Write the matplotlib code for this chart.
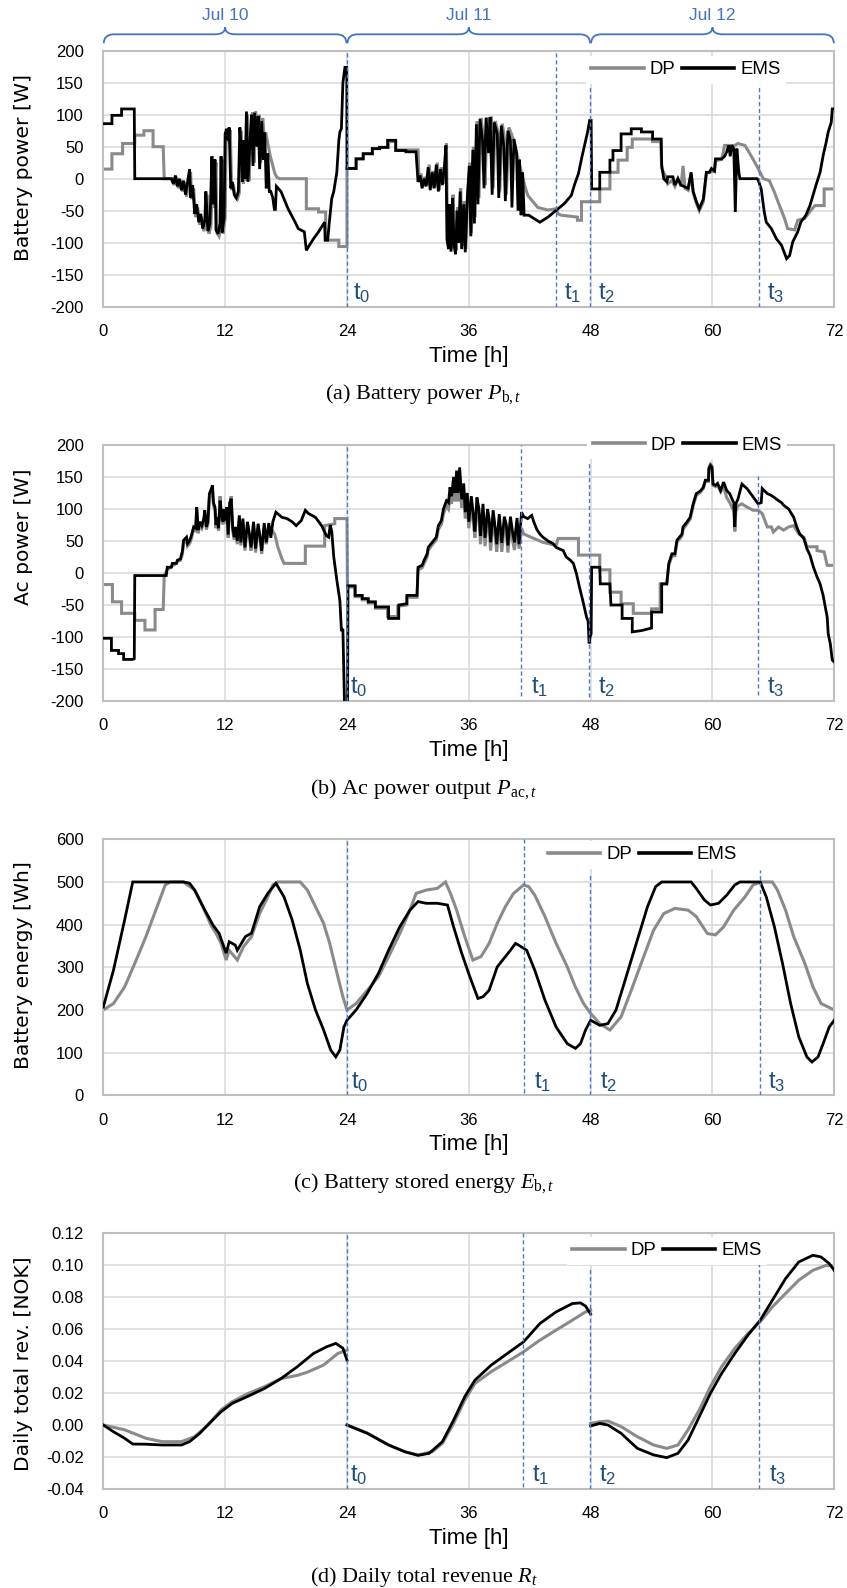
import numpy as np
import matplotlib
matplotlib.use('Agg')
import matplotlib.pyplot as plt
from matplotlib.path import Path
from matplotlib.patches import PathPatch
from matplotlib.lines import Line2D
from matplotlib.font_manager import FontProperties
import matplotlib.transforms as mtransforms
from matplotlib.ticker import FormatStrFormatter

plt.rcParams['axes.unicode_minus'] = False
plt.rcParams['mathtext.fontset'] = 'custom'
plt.rcParams['mathtext.rm'] = 'Liberation Serif'
plt.rcParams['mathtext.it'] = 'Liberation Serif:italic'
plt.rcParams['mathtext.bf'] = 'Liberation Serif:bold'

# ---------------- data ----------------
x_ticks = [0, 12, 24, 36, 48, 60, 72]
day_labels = ["Jul 10", "Jul 11", "Jul 12"]
series_labels = ["DP", "EMS"]

# (a) battery power [W]  (time h, value)
pb_dp = [(0,15),(0.85,15),(0.85,39),(1.9,39),(1.9,55),(3.1,55),(3.1,68),(4.0,68),(4.0,75),(4.9,75),(4.9,50),(5.9,50),(6.0,0),(6.8,0),
 (7.0,-10),(7.2,3),(7.4,-15),(7.6,-2),(7.8,-20),(8.0,-5),(8.2,-28),(8.4,-8),(8.6,10),(8.7,-32),(8.9,-15),(9.1,-60),(9.3,-45),(9.5,-72),
 (9.7,-60),(9.9,-82),(10.1,-70),(10.2,-25),(10.4,-86),(10.6,-75),(10.8,30),(10.9,-45),(11.1,25),(11.2,-85),(11.4,-90),(11.6,-75),(11.7,30),
 (11.8,-86),(12.0,-62),(12.1,68),(12.25,75),(12.4,58),(12.5,76),(12.65,-18),(12.8,-8),(13.0,-28),(13.2,-32),(13.4,-22),(13.55,75),(13.7,38),
 (13.8,-8),(13.95,58),(14.05,-3),(14.2,100),(14.35,-3),(14.55,62),(14.7,104),(14.85,25),(15.0,105),(15.2,55),(15.35,100),(15.5,25),
 (15.7,95),(15.85,65),(16.0,72),(16.2,55),(16.45,35),(16.7,20),(16.9,8),(17.1,2),(17.4,0),(20.0,0),(20.0,-47),
 (21.2,-47),(21.2,-52),(21.9,-52),(21.9,-96),(23.2,-96),(23.2,-106),(24.0,-106),(24.0,16),(24.9,16),(24.9,31),(25.6,31),(25.6,39),(26.5,39),
 (26.5,47),(27.2,47),(27.2,49),(28.1,49),(28.1,58),(28.8,58),(28.8,45),(31.0,45),(31.1,-5),(31.3,8),(31.5,-12),(31.7,3),(31.9,-10),(32.1,22),
 (32.3,-15),(32.5,12),(32.7,-12),(32.9,25),(33.1,-18),(33.3,18),(33.5,-8),(33.7,25),(33.8,55),(33.9,-90),(34.05,-105),(34.15,-50),(34.3,-110),
 (34.45,-25),(34.6,-100),(34.75,-112),(34.9,-45),(35.05,-95),(35.2,-15),(35.35,-105),(35.55,-35),(35.7,-110),(35.9,-25),(36.1,25),
 (36.25,-85),(36.45,50),(36.6,-60),(36.8,90),(37.0,-30),(37.2,95),(37.45,65),(37.6,-10),(37.8,96),(38.05,50),(38.2,97),(38.4,-15),(38.6,90),
 (38.9,72),(39.05,-20),(39.3,86),(39.55,60),(39.7,-25),(39.95,80),(40.2,70),(40.5,55),(40.8,35),(41.1,15),(41.5,-10),(41.8,-26),(42.8,-45),
 (43.8,-49),(44.6,-47),(44.8,-55),(45.1,-57),(46.7,-60),(46.7,-65),(47.1,-65),(47.1,-36),(48.9,-36),(48.9,-16),(49.9,-16),(49.9,10),(50.7,10),
 (50.7,29),(51.6,29),(51.6,49),(52.1,49),(52.1,62),(54.1,62),(54.1,58),(54.9,58),(55.0,16),(55.5,0),(55.6,-8),(56.0,-3),(56.3,-12),(56.6,0),
 (56.9,-12),(57.1,20),(57.3,-15),(57.6,-18),(57.9,8),(58.1,-22),(58.4,-38),(58.7,-50),(59.1,-36),(59.4,8),(59.7,10),(60.2,12),(60.3,28),
 (60.9,30),(61.2,52),(62.2,52),(62.5,55),(63.2,52),(63.8,36),(64.5,16),(65.0,0),(65.6,-3),(66.1,-21),(66.6,-42),(67.1,-62),(67.4,-78),
 (68.1,-80),(68.4,-65),(69.1,-62),(69.7,-49),(70.1,-42),(71.0,-42),(71.0,-16),(72,-16)]

pb_ems = [(0,86),(0.85,86),(0.85,99),(1.8,99),(1.8,109),(3.05,109),(3.1,0),(6.7,0),(6.9,-8),(7.1,5),(7.3,-12),(7.5,0),(7.7,-18),(7.9,-3),
 (8.1,-25),(8.3,-5),(8.5,15),(8.6,-30),(8.8,-10),(9.0,-55),(9.2,-40),(9.4,-68),(9.6,-55),(9.8,-78),(10.0,-65),(10.1,-20),(10.3,-82),(10.5,-70),
 (10.7,35),(10.8,-40),(11.0,30),(11.1,-80),(11.3,-86),(11.5,-70),(11.6,35),(11.7,-84),(11.9,-60),(12.0,70),(12.15,78),(12.3,60),(12.4,80),
 (12.55,-15),(12.7,-5),(12.9,-25),(13.1,-30),(13.3,-20),(13.45,80),(13.6,40),(13.7,-5),(13.85,60),(13.95,0),(14.1,105),(14.25,-5),(14.45,60),
 (14.6,100),(14.75,20),(14.9,103),(15.1,50),(15.25,98),(15.4,15),(15.6,90),(15.75,30),(15.9,72),(16.05,-15),(16.2,40),(16.35,-20),
 (16.5,-20),(16.7,-30),(16.85,-48),(16.95,-48),(17.05,-12),(17.5,-20),(18.2,-47),
 (18.9,-68),(19.2,-78),(19.8,-83),(20.0,-112),(20.3,-104),(20.7,-94),(21.2,-83),(21.6,-73),(21.8,-68),(21.85,-96),(22.1,-96),(22.3,-62),
 (22.5,-31),(22.7,-20),(22.8,-10),(23.0,10),(23.2,60),(23.3,73),(23.45,78),(23.6,150),(23.8,174),(23.98,174),(24.0,16),(24.9,16),(24.9,31),
 (25.6,31),(25.6,39),(26.5,39),(26.5,47),(27.2,47),(27.2,49),(28.0,49),(28.0,60),(28.8,60),(28.8,44),(29.8,44),(29.8,42),(30.8,42),(31.0,-5),
 (31.2,5),(31.4,-15),(31.6,0),(31.8,-12),(32.0,18),(32.2,-18),(32.4,10),(32.6,-15),(32.8,22),(33.0,-20),(33.2,15),(33.4,-10),(33.6,20),
 (33.75,52),(33.85,-95),(34.0,-110),(34.1,-40),(34.25,-114),(34.4,-30),(34.55,-105),(34.7,-118),(34.85,-50),(35.0,-100),(35.15,-20),
 (35.3,-110),(35.5,-40),(35.65,-115),(35.85,-30),(36.05,20),(36.2,-90),(36.4,45),(36.55,-70),(36.75,85),(36.9,-40),(37.1,93),(37.35,60),
 (37.5,-15),(37.7,95),(37.95,40),(38.1,96),(38.3,-25),(38.5,88),(38.8,70),(38.95,-30),(39.2,83),(39.45,50),(39.6,-35),(39.85,75),(40.1,60),
 (40.25,-45),(40.45,62),(40.7,40),(40.85,-50),(41.0,30),(41.15,-57),(41.3,10),(41.45,-57),(41.9,-57),
 (43.0,-68),(43.8,-60),(44.8,-47),(45.4,-39),(46.1,-26),(46.4,-10),(46.8,8),(47.1,31),(47.4,52),(47.7,73),(47.9,91),(48.05,91),(48.1,-16),
 (48.9,-16),(48.9,10),(49.9,10),(49.9,29),(50.2,29),(50.2,44),(51.0,44),(51.0,70),(52.0,70),(52.0,78),(53.0,78),(53.0,73),(54.1,73),(54.1,62),
 (54.95,62),(55.0,21),(55.2,0),(55.5,-5),(55.6,3),(56.1,3),(56.3,-10),(56.6,0),(56.9,-10),(57.6,-15),(57.9,10),(58.1,-20),(58.4,-35),(58.7,-47),
 (59.1,-32),(59.4,10),(59.7,10),(59.9,16),(60.2,12),(60.3,31),(60.9,31),(61.2,35),(61.4,42),(61.6,52),(61.75,35),(61.9,52),(62.1,47),(62.25,-52),
 (62.4,47),(62.6,10),(62.7,0),(64.4,0),(64.5,-2),(64.8,-16),(65.1,-52),(65.3,-68),(65.8,-78),(66.3,-94),(66.8,-104),(67.3,-125),(67.6,-120),
 (67.9,-99),(68.4,-83),(68.7,-68),(69.2,-57),(69.6,-42),(69.9,-26),(70.2,-10),(70.6,10),(70.9,36),(71.2,57),(71.4,73),(71.7,88),(71.8,109),(72,109)]

# (b) ac power output [W]
pac_dp = [(0,-18),(0.9,-18),(0.9,-45),(1.8,-45),(1.8,-63),(3.1,-63),(3.1,-74),(4.1,-74),(4.1,-89),(5.1,-89),(5.1,-57),(5.9,-57),(6.0,-4),
 (6.3,5),(6.7,10),(7.2,15),(7.3,18),(7.6,20),(7.8,30),(7.9,46),(8.2,52),(8.3,42),(8.5,46),(8.7,55),(8.9,68),(9.1,66),(9.2,98),(9.35,62),(9.5,76),
 (9.7,70),(9.9,80),(10.0,93),(10.15,68),(10.3,76),(10.45,118),(10.6,125),(10.75,133),(10.85,105),(11.0,99),(11.1,70),(11.2,83),(11.35,66),
 (11.5,120),(11.65,85),(11.8,76),(11.9,95),(12.0,78),(12.15,98),(12.3,55),(12.45,105),(12.6,120),(12.75,65),(12.9,52),
 (13.0,68),(13.2,45),(13.4,85),(13.55,43),(13.75,80),(13.95,35),(14.2,75),(14.4,55),(14.55,35),(14.8,75),(15.0,32),(15.25,72),(15.45,50),
 (15.6,30),(15.85,72),(16.05,45),(16.3,68),(16.5,62),(16.7,65),(16.9,60),(17.2,40),(17.6,22),
 (17.8,15),(19.9,15),(19.9,42),(21.8,42),(21.8,74),(22.8,77),(22.8,85),(24.0,85),(24.05,-22),(24.8,-22),(24.8,-37),(25.5,-37),(25.5,-42),
 (26.1,-42),(26.1,-47),(26.8,-47),(26.8,-55),(28.0,-55),(28.0,-68),(29.0,-68),(29.0,-52),(29.9,-50),(29.9,-38),(30.9,-38),(31.0,5),(31.4,8),
 (31.6,15),(31.9,25),(32.0,35),(32.3,42),(32.6,48),(32.8,52),(33.0,68),(33.3,76),(33.5,92),(33.8,105),(34.0,100),(34.15,120),(34.3,108),
 (34.5,135),(34.65,112),(34.8,145),(34.95,112),(35.1,150),(35.3,102),(35.5,125),(35.65,85),(35.85,112),(36.0,70),(36.25,106),(36.45,78),
 (36.6,55),(36.8,104),(37.0,88),(37.15,45),(37.4,95),(37.6,42),(37.85,88),(38.0,72),(38.15,35),(38.4,85),(38.6,58),(38.75,33),(39.0,78),
 (39.25,33),(39.5,75),(39.7,62),(39.85,32),(40.1,75),(40.35,48),(40.5,36),(40.75,73),(40.95,38),(41.2,70),(41.4,61),(42.4,54),(43.3,48),
 (44.6,43),(44.8,54),(46.8,54),(46.8,28),
 (48.9,28),(48.9,5),(49.9,5),(49.9,-30),(51.0,-30),(51.0,-48),(52.2,-48),(52.2,-63),(54.0,-63),(54.0,-56),(54.85,-56),(54.85,-17),(55.5,-17),
 (55.7,12),(56.0,26),(56.3,27),(56.5,48),(57.0,58),(57.1,68),(57.5,77),(57.8,84),(58.1,105),(58.4,121),(58.8,126),(59.1,132),(59.3,143),
 (59.6,143),(59.65,165),(59.8,170),(59.95,167),(60.05,137),(60.3,135),(60.5,138),(60.8,127),(61.1,135),(61.4,118),(61.7,110),(62.0,100),
 (62.1,98),(62.2,65),(62.3,96),(62.5,105),(62.9,108),(63.4,103),(64.0,98),(64.5,98),(64.9,93),(65.4,72),(65.8,72),(66.0,64),(66.5,72),
 (67.0,67),(67.5,72),(68.0,74),(68.5,61),(69.0,56),(69.3,41),(70.3,41),(70.3,35),(71.0,33),(71.3,12),(72,12)]

pac_ems = [(0,-102),(0.8,-102),(0.8,-121),(1.5,-121),(1.5,-126),(2.0,-126),(2.0,-135),(2.9,-135),(3.05,-134),(3.1,-4),(6.2,-4),(6.3,9),
 (6.7,9),(6.8,15),(7.2,15),(7.3,20),(7.6,22),(7.8,35),(7.9,51),(8.2,56),(8.3,46),(8.5,50),(8.7,60),(8.9,72),(9.1,70),(9.2,103),(9.35,67),
 (9.5,80),(9.7,74),(9.9,85),(10.0,98),(10.15,72),(10.3,80),(10.45,124),(10.6,130),(10.75,137),(10.85,110),(11.0,103),(11.1,75),(11.2,87),
 (11.35,70),(11.5,113),(11.65,90),(11.8,80),(11.9,100),(12.0,82),(12.15,103),(12.3,60),(12.45,110),(12.6,116),(12.75,70),(12.9,56),
 (13.0,72),(13.2,50),(13.4,90),(13.55,48),(13.75,85),(13.95,40),(14.2,80),(14.4,60),(14.55,40),(14.8,80),(15.0,38),(15.25,77),(15.45,55),
 (15.6,35),(15.85,78),(16.05,48),(16.3,78),(16.5,55),(16.7,80),(16.9,90),
 (17.0,95),(17.6,87),(18.1,85),(18.6,80),(19.0,74),(19.5,82),(19.9,98),(20.2,93),(20.9,87),(21.5,74),(21.8,64),(22.0,58),(22.2,56),(22.35,75),
 (22.5,65),(22.7,25),(23.0,-11),(23.3,-43),(23.45,-89),(23.6,-89),(23.75,-200),(23.95,-260),(24.05,-260),(24.1,-20),(24.8,-20),(24.8,-35),
 (25.5,-35),(25.5,-40),(26.1,-40),(26.1,-45),(26.8,-45),(26.8,-53),(28.1,-53),(28.1,-71),(29.1,-71),(29.1,-50),(29.9,-48),(29.9,-35),
 (30.9,-35),(31.0,9),(31.4,12),(31.6,20),(31.9,30),(32.0,40),(32.3,46),(32.6,52),(32.8,56),(33.0,74),(33.3,82),(33.5,100),(33.8,113),
 (34.0,110),(34.15,134),(34.3,120),(34.5,150),(34.65,125),(34.8,160),(34.95,125),(35.1,165),(35.3,115),(35.5,140),(35.65,95),(35.85,125),
 (36.0,80),(36.25,120),(36.45,90),(36.6,65),(36.8,118),(37.0,100),(37.15,58),(37.4,108),(37.6,55),(37.85,100),(38.0,85),(38.15,48),(38.4,98),
 (38.6,70),(38.75,45),(39.0,92),(39.25,47),(39.5,88),(39.7,75),(39.85,43),(40.1,88),(40.35,60),(40.5,48),(40.75,86),(40.95,45),(41.2,95),
 (41.4,88),(41.8,85),(42.2,90),
 (42.4,80),(42.7,68),(43.0,61),(43.3,56),(43.8,50),(44.3,46),(44.6,40),(45.3,35),(45.6,25),(46.0,20),(46.3,15),(46.6,-1),(46.9,-22),
 (47.3,-48),(47.6,-69),(47.75,-75),(47.85,-110),(47.95,-100),(48.05,-95),(48.1,9),(48.9,9),(48.95,-17),(49.9,-17),(50.0,-50),(51.1,-50),
 (51.1,-71),(52.1,-71),(52.1,-92),(53.0,-90),(54.0,-86),(54.0,-61),(55.0,-61),(55.0,-17),(55.5,-17),(55.7,15),(56.0,30),(56.3,30),(56.5,51),
 (57.0,61),(57.1,72),(57.5,80),(57.8,87),(58.1,108),(58.4,124),(58.8,128),(59.1,134),(59.3,145),(59.6,145),(59.65,163),(59.8,168),(59.95,165),
 (60.05,139),(60.3,137),(60.5,140),(60.8,129),(61.1,142),(61.4,129),(61.7,124),(62.0,113),(62.1,110),(62.2,72),(62.3,108),(62.5,115),
 (62.9,139),(63.4,132),(64.0,119),(64.5,108),(64.8,110),(64.9,132),(65.4,124),(65.7,122),(66.0,119),(66.5,113),(66.8,110),(67.0,106),
 (67.5,100),(68.0,87),(68.3,72),(68.6,61),(69.0,54),(69.3,38),(69.6,28),(69.95,9),(70.3,-6),(70.6,-17),(70.9,-35),(71.3,-69),(71.4,-95),
 (71.6,-110),(71.8,-136),(72,-139)]

# (c) battery stored energy [Wh]
eb_dp = [(0,200),(1.0,215),(2.1,254),(3.1,309),(4.2,372),(5.3,442),(6.1,493),(6.6,500),(7.9,500),(9.0,481),(9.8,442),(10.6,399),(11.1,380),
 (11.6,356),(12.1,317),(12.4,340),(13.2,317),(13.8,348),(14.6,372),(15.4,426),(16.2,465),(16.7,493),(17.2,500),(19.4,500),(20.1,481),
 (20.9,442),(21.7,403),(22.3,356),(23.1,278),(23.6,231),(24.0,200),(24.9,215),(26.0,246),(27.1,278),(28.1,325),(29.2,379),(30.2,434),
 (30.8,473),(31.8,481),(32.9,485),(33.7,500),(34.2,473),(34.8,434),(35.6,372),(36.4,317),(37.2,325),(38.0,356),(38.8,403),(39.6,442),
 (40.4,473),(41.4,493),(41.9,489),(42.5,469),(43.5,419),(44.6,356),(45.7,301),(46.5,254),(47.3,215),(48.0,192),(48.9,168),(49.9,153),
 (51.0,184),(52.0,246),(53.1,317),(54.2,387),(55.2,426),(56.3,438),(57.6,434),(58.4,419),(59.5,379),(60.3,376),(61.1,395),(62.1,434),
 (63.2,465),(64.0,493),(64.8,500),(65.9,500),(66.4,481),(67.2,434),(68.0,372),(69.1,309),(69.9,254),(70.7,215),(72.0,200)]

eb_ems = [(0,207),(1.0,293),(2.1,411),(2.9,500),(7.9,500),(8.5,497),(9.0,481),(10.0,434),(10.8,399),(11.4,380),(12.1,333),(12.4,360),
 (13.0,352),(13.2,340),(14.0,372),(14.6,380),(15.4,442),(16.2,473),(17.0,497),(17.8,465),(18.6,411),(19.4,340),(20.1,262),(20.9,200),
 (21.7,153),(22.4,106),(22.9,90),(23.3,106),(23.7,160),(24.0,176),(24.9,200),(26.0,239),(27.1,286),(28.1,340),(29.2,395),(30.2,434),
 (31.0,454),(31.8,450),(32.9,450),(33.9,446),(34.5,395),(35.3,333),(36.1,278),(36.9,227),(37.4,231),(38.0,246),(38.8,301),(39.6,325),
 (40.1,340),(40.6,356),(40.9,352),(41.7,340),(42.5,293),(43.5,223),(44.6,160),(45.7,121),(46.5,110),(47.0,121),(47.5,153),(48.0,176),
 (48.9,164),(49.7,168),(50.5,200),(51.5,278),(52.6,364),(53.6,442),(54.4,489),(55.0,500),(57.9,500),(58.4,485),(59.2,458),(59.8,446),
 (60.6,450),(61.4,469),(62.2,493),(62.7,500),(64.7,500),(65.3,465),(66.1,395),(66.9,309),(67.7,215),(68.5,137),(69.3,90),(69.8,78),
 (70.4,90),(70.9,121),(71.5,160),(72.0,176)]

# (d) daily total revenue [NOK]  (nan = new day)
rev_dp = [(0,0.0),(2.1,-0.003),(4.2,-0.0083),(5.8,-0.0104),(7.7,-0.0104),(9.0,-0.0073),(10.3,0.0),(11.6,0.0094),(12.7,0.0146),
 (14.3,0.0198),(15.9,0.024),(17.5,0.029),(19.1,0.031),(20.1,0.033),(21.7,0.0375),(23.1,0.0447),(24.0,0.0468),(24.0,np.nan),
 (24.0,0.0),(26.0,-0.005),(28.1,-0.0125),(29.7,-0.0167),(31.0,-0.0187),(32.4,-0.0167),(33.4,-0.0114),(34.5,0.001),(35.6,0.0156),
 (36.6,0.026),(38.2,0.0333),(39.8,0.0395),(41.4,0.0458),(43.0,0.053),(44.6,0.0593),(46.2,0.0655),(47.5,0.0707),(48.0,0.0718),(48.0,np.nan),
 (48.0,0.001),(48.9,0.002),(49.7,0.0025),(51.0,-0.001),(52.6,-0.0073),(54.2,-0.0125),(55.5,-0.0146),(56.6,-0.0125),(57.6,-0.003),
 (58.7,0.0094),(59.8,0.024),(60.9,0.0364),(62.2,0.0479),(63.5,0.0572),(64.7,0.0645),(65.9,0.0738),(67.2,0.0822),(68.5,0.0905),
 (69.9,0.0967),(71.2,0.0998),(72.0,0.0992)]

rev_ems = [(0,0.0),(1.0,-0.0042),(2.1,-0.0083),(2.9,-0.0119),(4.2,-0.012),(5.8,-0.0125),(7.7,-0.0125),(8.5,-0.0104),(9.5,-0.0052),
 (10.6,0.002),(11.6,0.0083),(12.7,0.0135),(14.3,0.0181),(15.9,0.0229),(17.5,0.029),(19.1,0.0364),(20.7,0.0447),(22.0,0.0489),(22.9,0.051),
 (23.6,0.048),(24.0,0.0406),(24.0,np.nan),(24.0,0.0),(26.0,-0.0052),(28.1,-0.0125),(29.7,-0.0167),(31.0,-0.019),(32.1,-0.0177),
 (33.4,-0.0104),(34.5,0.003),(35.6,0.0177),(36.6,0.028),(38.2,0.0374),(39.8,0.0447),(41.4,0.052),(43.0,0.0634),(44.6,0.0707),
 (46.2,0.0759),(47.0,0.0763),(47.5,0.0743),(48.0,0.0693),(48.0,np.nan),(48.0,-0.0006),(48.9,0.001),(49.7,0.0),(51.0,-0.0052),
 (52.6,-0.0146),(54.2,-0.0187),(55.5,-0.0204),(56.6,-0.0177),(57.6,-0.0094),(58.7,0.0052),(59.8,0.0198),(60.9,0.0322),(62.2,0.0447),
 (63.5,0.0562),(64.7,0.0655),(65.9,0.078),(67.2,0.0915),(68.5,0.1019),(69.9,0.1061),(70.7,0.105),(71.5,0.1009),(72.0,0.0967)]

# event markers t0..t3 per panel (hours)
t_marks_a = [24.0, 44.6, 47.9, 64.6]
t_marks_b = [24.0, 41.1, 47.8, 64.5]
t_marks_c = [24.0, 41.4, 47.9, 64.7]
t_marks_d = [24.0, 41.3, 47.9, 64.6]

# ---------------- style ----------------
GRAY = '#8a8a8a'
BLACK = '#000000'
BLUE_LINE = '#4a7cc4'
BLUE_TXT = '#1f4e79'
BLUE_BRACE = '#4472c4'
GRID = '#d9d9d9'
FRAME = '#bfbfbf'

tick_fp = FontProperties(family='Liberation Sans', size=12)
xlab_fp = FontProperties(family='Liberation Sans', size=16)
ylab_fp = FontProperties(family='DejaVu Sans', size=14.6)
leg_fp = FontProperties(family='Liberation Sans', size=13.4)
tlab_fp = FontProperties(family='Liberation Sans', size=17)
cap_fp = FontProperties(family='Liberation Serif', size=16)

W, H = 847, 1588
fig = plt.figure(figsize=(W/100, H/100), dpi=100)

left = 103.3 / W
width = 731.0 / W
height = 256.0 / H
tops = [50.7, 445.0, 839.3, 1233.0]

panels = [
    dict(dp=pb_dp, ems=pb_ems, ylim=(-200, 200), step=50, fmt='%d', ylabel='Battery power [W]', ylab_y=0.544,
         marks=t_marks_a, lines=[(0, 1), (0, 1), (0, 0.859), (0, 0.866)], toff=[0.6, 0.8, 0.85, 0.75],
         leg=(0.797, 0.925), cap=r'(a) Battery power $P_{\mathrm{b},t}$'),
    dict(dp=pac_dp, ems=pac_ems, ylim=(-200, 200), step=50, fmt='%d', ylabel='Ac power [W]', ylab_y=0.64,
         marks=t_marks_b, lines=[(0, 1), (0.018, 1), (0.014, 0.934), (0.025, 0.879)],
         toff=[0.3, 1.0, 0.9, 0.9], leg=(0.799, 1.0), cap=r'(b) Ac power output $P_{\mathrm{ac},t}$'),
    dict(dp=eb_dp, ems=eb_ems, ylim=(0, 600), step=100, fmt='%d', ylabel='Battery energy [Wh]', ylab_y=0.508,
         marks=t_marks_c, lines=[(0, 1), (0.008, 1), (0, 0.868), (0, 0.88)],
         toff=[0.37, 1.0, 1.0, 0.8], leg=(0.738, 0.939), cap=r'(c) Battery stored energy $E_{\mathrm{b},t}$'),
    dict(dp=rev_dp, ems=rev_ems, ylim=(-0.04, 0.12), step=0.02, fmt='%.2f', ylabel='Daily total rev. [NOK]', ylab_y=0.49,
         marks=t_marks_d, lines=[(0, 1), (0.008, 1), (0, 0.863), (0, 0.883)],
         toff=[0.3, 0.9, 0.96, 0.96], leg=(0.771, 0.93), cap=r'(d) Daily total revenue $R_{t}$'),
]

axes = []
for i, p in enumerate(panels):
    bottom = 1 - (tops[i] + 256.0) / H
    ax = fig.add_axes([left, bottom, width, height])
    axes.append(ax)
    ax.set_xlim(0, 72)
    ax.set_ylim(*p['ylim'])
    ax.set_xticks(x_ticks)
    yt = np.arange(p['ylim'][0], p['ylim'][1] + p['step'] * 0.5, p['step'])
    ax.set_yticks(yt)
    ax.yaxis.set_major_formatter(FormatStrFormatter(p['fmt']))
    ax.tick_params(axis='both', length=0)
    ax.tick_params(axis='y', pad=14)
    ax.tick_params(axis='x', pad=12.5)
    for lab in ax.get_xticklabels() + ax.get_yticklabels():
        lab.set_fontproperties(tick_fp)
    ax.grid(True, color=GRID, linewidth=1.1, zorder=0)
    ax.set_axisbelow(True)
    for s in ax.spines.values():
        s.set_color(FRAME)
        s.set_linewidth(1.5)

    tdp, vdp = zip(*p['dp'])
    tem, vem = zip(*p['ems'])
    ax.plot(tdp, vdp, color=GRAY, lw=2.2, solid_joinstyle='miter', zorder=2)
    ax.plot(tem, vem, color=BLACK, lw=2.0, solid_joinstyle='miter', zorder=3)

    for k, (xm, (y0, y1), off) in enumerate(zip(p['marks'], p['lines'], p['toff'])):
        ax.axvline(xm, ymin=y0, ymax=y1, color=BLUE_LINE, lw=1.0, linestyle=(0, (3, 2)), zorder=4)
        ax.text(xm + off, 0.006, r'$\mathregular{t_%d}$' % k, transform=ax.get_xaxis_transform(),
                fontproperties=tlab_fp, color=BLUE_TXT, ha='left', va='bottom', zorder=6)

    ax.set_xlabel('Time [h]', fontproperties=xlab_fp)
    ax.xaxis.set_label_coords(0.5, -0.152)
    ax.set_ylabel(p['ylabel'], fontproperties=ylab_fp)
    ax.yaxis.set_label_coords(-0.096, p['ylab_y'])

    handles = [Line2D([], [], color=GRAY, lw=2.6), Line2D([], [], color=BLACK, lw=2.6)]
    leg = ax.legend(handles, series_labels, ncol=2, loc='center', bbox_to_anchor=p['leg'],
                    frameon=True, facecolor='white', edgecolor='none', framealpha=1, fancybox=False,
                    handlelength=2.8, handletextpad=0.32, columnspacing=0.36, borderpad=0.3,
                    prop=leg_fp)
    leg.set_zorder(7)

    fig.text(0.5, 1 - (tops[i] + 256.0 + 87.7) / H, p['cap'], fontproperties=cap_fp,
             ha='center', va='center')

# day braces above panel (a)
ax = axes[0]
trans = mtransforms.blended_transform_factory(ax.transData, ax.transAxes)
yb, yh, yt_ = 1.029, 1.064, 1.091
for d, lab in enumerate(day_labels):
    x0, x1 = 24 * d + 0.05, 24 * (d + 1) - 0.05
    xm = (x0 + x1) / 2
    dd = 1.0
    verts = [(x0, yb), (x0, yh), (x0 + dd, yh), (xm - dd, yh), (xm, yh), (xm, yt_),
             (xm, yh), (xm + dd, yh), (x1 - dd, yh), (x1, yh), (x1, yb)]
    codes = [Path.MOVETO, Path.CURVE3, Path.CURVE3, Path.LINETO, Path.CURVE3, Path.CURVE3,
             Path.CURVE3, Path.CURVE3, Path.LINETO, Path.CURVE3, Path.CURVE3]
    patch = PathPatch(Path(verts, codes), transform=trans, fill=False, edgecolor=BLUE_BRACE,
                      lw=1.3, clip_on=False)
    ax.add_patch(patch)
    ax.text(xm, 1.136, lab, transform=trans, ha='center', va='center', color=BLUE_BRACE,
            fontproperties=FontProperties(family='Liberation Sans', size=12.5), clip_on=False)

fig.savefig('out.png', dpi=100)
